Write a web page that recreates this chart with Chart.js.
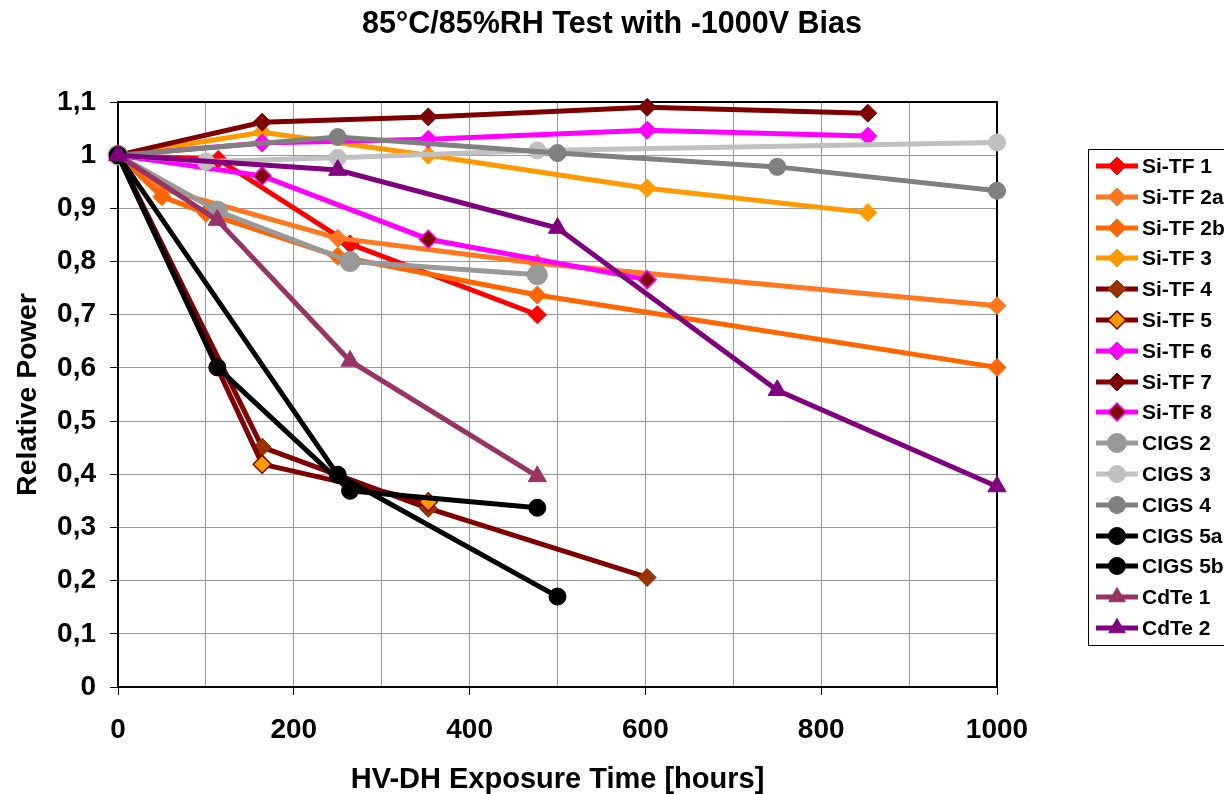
<!DOCTYPE html>
<html>
<head>
<meta charset="utf-8">
<script src="https://cdn.jsdelivr.net/npm/chart.js@4.4.0/dist/chart.umd.min.js"></script>
<style>
  html, body { margin: 0; padding: 0; background: #fff; overflow: hidden; }
  #wrap { width: 1224px; height: 794px; position: relative; }
</style>
</head>
<body>
<div id="wrap"><canvas id="c" width="1224" height="794"></canvas></div>
<script>
// ---- Data (hours, relative power) ----
const seriesNames = ['Si-TF 1','Si-TF 2a','Si-TF 2b','Si-TF 3','Si-TF 4','Si-TF 5','Si-TF 6','Si-TF 7','Si-TF 8','CIGS 2','CIGS 3','CIGS 4','CIGS 5a','CIGS 5b','CdTe 1','CdTe 2'];

const hoursSiTF1  = [0, 114, 264, 477];
const powerSiTF1  = [1, 0.992, 0.833, 0.700];
const hoursSiTF2a = [0, 50, 250, 477, 1000];
const powerSiTF2a = [1, 0.937, 0.844, 0.797, 0.717];
const hoursSiTF2b = [0, 50, 100, 250, 477, 1000];
const powerSiTF2b = [1, 0.922, 0.891, 0.810, 0.737, 0.601];
const hoursSiTF3  = [0, 164, 353, 602, 853];
const powerSiTF3  = [1, 1.043, 1.000, 0.938, 0.892];
const hoursSiTF4  = [0, 164, 353, 602];
const powerSiTF4  = [1, 0.451, 0.336, 0.206];
const hoursSiTF5  = [0, 164, 353];
const powerSiTF5  = [1, 0.419, 0.348];
const hoursSiTF6  = [0, 164, 353, 602, 853];
const powerSiTF6  = [1, 1.023, 1.030, 1.047, 1.036];
const hoursSiTF7  = [0, 164, 353, 602, 853];
const powerSiTF7  = [1, 1.062, 1.072, 1.090, 1.079];
const hoursSiTF8  = [0, 164, 353, 602];
const powerSiTF8  = [1, 0.961, 0.842, 0.766];
const hoursCIGS2  = [0, 113, 264, 477];
const powerCIGS2  = [1, 0.895, 0.800, 0.775];
const hoursCIGS3  = [0, 100, 250, 477, 1000];
const powerCIGS3  = [1, 0.988, 0.995, 1.009, 1.024];
const hoursCIGS4  = [0, 250, 500, 750, 1000];
const powerCIGS4  = [1, 1.034, 1.004, 0.978, 0.933];
const hoursCIGS5a = [0, 113, 264, 477];
const powerCIGS5a = [1, 0.601, 0.369, 0.337];
const hoursCIGS5b = [0, 250, 500];
const powerCIGS5b = [1, 0.399, 0.170];
const hoursCdTe1  = [0, 113, 264, 477];
const powerCdTe1  = [1, 0.878, 0.613, 0.396];
const hoursCdTe2  = [0, 250, 500, 750, 1000];
const powerCdTe2  = [1, 0.972, 0.863, 0.558, 0.377];

const yTickLabels = ['0','0,1','0,2','0,3','0,4','0,5','0,6','0,7','0,8','0,9','1','1,1'];
const xTickLabels = ['0','200','400','600','800','1000'];

const allHours = [hoursSiTF1,hoursSiTF2a,hoursSiTF2b,hoursSiTF3,hoursSiTF4,hoursSiTF5,hoursSiTF6,hoursSiTF7,hoursSiTF8,hoursCIGS2,hoursCIGS3,hoursCIGS4,hoursCIGS5a,hoursCIGS5b,hoursCdTe1,hoursCdTe2];
const allPower = [powerSiTF1,powerSiTF2a,powerSiTF2b,powerSiTF3,powerSiTF4,powerSiTF5,powerSiTF6,powerSiTF7,powerSiTF8,powerCIGS2,powerCIGS3,powerCIGS4,powerCIGS5a,powerCIGS5b,powerCdTe1,powerCdTe2];

// ---- Styles ----
const styles = [
  {line:'#FF0000', fill:'#FF0000', border:'#FF0000', shape:'rectRot', r:9, bw:1},
  {line:'#FF771F', fill:'#FF771F', border:'#FF771F', shape:'rectRot', r:9, bw:1},
  {line:'#FF6600', fill:'#FF6600', border:'#FF6600', shape:'rectRot', r:9, bw:1},
  {line:'#FF9900', fill:'#FF9900', border:'#FF9900', shape:'rectRot', r:9, bw:1},
  {line:'#800000', fill:'#993300', border:'#993300', shape:'rectRot', r:9, bw:1},
  {line:'#800000', fill:'#FF9900', border:'#800000', shape:'rectRot', r:9, bw:1.5},
  {line:'#FF00FF', fill:'#FF00FF', border:'#FF00FF', shape:'rectRot', r:9, bw:1},
  {line:'#800000', fill:'#800000', border:'#800000', shape:'rectRot', r:9, bw:1},
  {line:'#FF00FF', fill:'#800000', border:'#FF00FF', shape:'rectRot', r:9, bw:1.5},
  {line:'#999999', fill:'#999999', border:'#999999', shape:'circle', r:10, bw:1},
  {line:'#C0C0C0', fill:'#C0C0C0', border:'#C0C0C0', shape:'circle', r:8.5, bw:1},
  {line:'#808080', fill:'#808080', border:'#808080', shape:'circle', r:8.5, bw:1},
  {line:'#000000', fill:'#000000', border:'#000000', shape:'circle', r:8.5, bw:1},
  {line:'#000000', fill:'#000000', border:'#000000', shape:'circle', r:8.5, bw:1},
  {line:'#993366', fill:'#993366', border:'#993366', shape:'triangle', r:10.5, bw:1},
  {line:'#800080', fill:'#800080', border:'#800080', shape:'triangle', r:10.5, bw:1}
];

const FONT = "'Liberation Sans', Arial, sans-serif";

const datasets = seriesNames.map((name, i) => ({
  label: name,
  data: allHours[i].map((h, k) => ({x: h, y: allPower[i][k]})),
  borderColor: styles[i].line,
  backgroundColor: styles[i].fill,
  borderWidth: 5,
  pointStyle: styles[i].shape,
  pointRadius: styles[i].r,
  pointHoverRadius: styles[i].r,
  pointBackgroundColor: styles[i].fill,
  pointBorderColor: styles[i].border,
  pointBorderWidth: styles[i].bw,
  tension: 0,
  fill: false,
  clip: false,
  yAxisID: 'y',
  order: seriesNames.length - i
}));

const framePlugin = {
  id: 'frame',
  beforeDatasetsDraw(chart) {
    const {ctx, chartArea: a} = chart;
    ctx.save();
    ctx.strokeStyle = '#000';
    ctx.lineWidth = 2;
    ctx.beginPath();
    ctx.moveTo(a.left, a.top);
    ctx.lineTo(a.right, a.top);
    ctx.lineTo(a.right, a.bottom);
    ctx.stroke();
    ctx.restore();
  }
};

const legendPlugin = {
  id: 'customLegend',
  afterDraw(chart) {
    const ctx = chart.ctx;
    const x0 = 1088, y0 = 149, rowH = 30.8, firstY = 166;
    const n = chart.data.datasets.length;
    const h = firstY - y0 + (n - 1) * rowH + 17;
    ctx.save();
    ctx.fillStyle = '#fff';
    ctx.fillRect(x0, y0, 200, h);
    ctx.strokeStyle = '#000';
    ctx.lineWidth = 1;
    ctx.strokeRect(x0 + 0.5, y0 + 0.5, 200, h);
    chart.data.datasets.forEach((ds, i) => {
      const y = Math.round(firstY + i * rowH);
      ctx.strokeStyle = ds.borderColor;
      ctx.lineWidth = 5;
      ctx.beginPath();
      ctx.moveTo(1096, y);
      ctx.lineTo(1138, y);
      ctx.stroke();
      ctx.fillStyle = ds.pointBackgroundColor;
      ctx.strokeStyle = ds.pointBorderColor;
      ctx.lineWidth = ds.pointBorderWidth;
      Chart.helpers.drawPoint(ctx, {pointStyle: ds.pointStyle, radius: Math.min(ds.pointRadius, 9.5), rotation: 0, borderWidth: ds.pointBorderWidth}, 1117, y);
      ctx.fillStyle = '#000';
      ctx.font = 'bold 21px ' + FONT;
      ctx.textBaseline = 'middle';
      ctx.textAlign = 'left';
      ctx.fillText(ds.label, 1142, y + 1);
    });
    ctx.restore();
  }
};

new Chart(document.getElementById('c'), {
  type: 'line',
  data: { datasets },
  options: {
    responsive: false,
    animation: false,
    layout: { padding: { left: 0, right: 0, top: 0, bottom: 0 } },
    plugins: {
      legend: { display: false },
      tooltip: { enabled: false },
      title: {
        display: true,
        text: '85°C/85%RH Test with -1000V Bias',
        color: '#000',
        font: { family: FONT, size: 30.5, weight: 'bold' },
        padding: { top: 6, bottom: 59.4 }
      }
    },
    scales: {
      x: {
        type: 'linear',
        min: 0, max: 1000,
        ticks: {
          stepSize: 100,
          autoSkip: false,
          maxRotation: 0,
          color: '#000',
          padding: 18,
          font: { family: FONT, size: 28, weight: 'bold' },
          callback: (v) => xTickLabels.includes(String(v)) ? String(v) : ''
        },
        grid: {
          color: '#999999',
          lineWidth: 1,
          tickLength: 8,
          tickColor: (c) => (c.tick && xTickLabels.includes(String(c.tick.value))) ? '#000' : 'rgba(0,0,0,0)'
        },
        border: { color: '#000', width: 2 },
        title: {
          display: true,
          text: 'HV-DH Exposure Time [hours]',
          color: '#000',
          font: { family: FONT, size: 29, weight: 'bold' },
          padding: { top: 0, bottom: -3 }
        },
        afterFit: (s) => { s.height = 107; }
      },
      y: {
        type: 'linear',
        position: 'left',
        min: 0, max: 1.1,
        ticks: {
          stepSize: 0.1,
          color: '#000',
          padding: 14,
          font: { family: FONT, size: 28, weight: 'bold' },
          callback: (v) => yTickLabels[Math.round(v * 10)]
        },
        grid: { color: '#999999', lineWidth: 1, tickLength: 8, tickColor: '#000' },
        border: { color: '#000', width: 2 },
        title: {
          display: true,
          text: 'Relative Power',
          color: '#000',
          font: { family: FONT, size: 28.5, weight: 'bold' },
          padding: { top: 11, bottom: 0 }
        },
        afterFit: (s) => { s.width = 118; }
      },
      yRightSpace: {
        type: 'linear',
        position: 'right',
        display: true,
        grid: { display: false, drawTicks: false },
        ticks: { display: false },
        border: { display: false },
        title: { display: false },
        afterFit: (s) => { s.width = 227; }
      }
    }
  },
  plugins: [framePlugin, legendPlugin]
});
</script>
</body>
</html>
